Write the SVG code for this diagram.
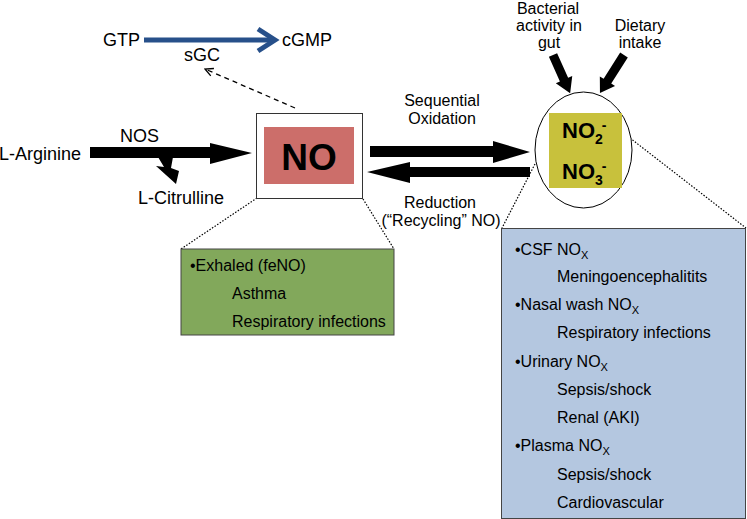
<svg xmlns="http://www.w3.org/2000/svg" width="747" height="519" viewBox="0 0 747 519">
<defs>
<style>
text{font-family:"Liberation Sans",Arial,sans-serif;fill:#000}
.lbl{font-size:18px}
.sm{font-size:16px}
.dot{stroke:#000;stroke-width:1.2;stroke-dasharray:1.5 1.6;fill:none}
.blk{fill:#000}
</style>
<marker id="chev" viewBox="0 0 10 10" refX="9" refY="5" markerWidth="10" markerHeight="10" orient="auto" markerUnits="userSpaceOnUse">
<path d="M1,1 L9,5 L1,9" fill="none" stroke="#000" stroke-width="1.3"/>
</marker>
</defs>
<rect width="747" height="519" fill="#fff"/>

<g id="connectors">
<!-- GTP -> cGMP -->
<line x1="144" y1="40" x2="272" y2="40" stroke="#27508a" stroke-width="5"/>
<path d="M258,29 L275,40 L258,51" fill="none" stroke="#27508a" stroke-width="5" stroke-linejoin="miter"/>
<!-- NO -> sGC dashed -->
<line x1="295" y1="108" x2="205" y2="69" stroke="#000" stroke-width="1.3" stroke-dasharray="5 4" marker-end="url(#chev)"/>
<!-- L-Arginine -> NO -->
<path class="blk" d="M90,147 L210,147 L210,143 L252,153 L210,164 L210,158 L90,158Z"/>
<path class="blk" d="M158,157 L173,157 L171,168 L179,171 L176,184 L156,166 L164,167Z"/>
<!-- Sequential oxidation -->
<path class="blk" d="M370,146 L493,146 L493,141 L530,152 L493,163 L493,157 L370,157Z"/>
<!-- Reduction -->
<path class="blk" d="M530,167 L410,167 L410,162 L367,172 L410,183 L410,177 L530,177Z"/>
<!-- Bacterial / Dietary -->
<path class="blk" transform="translate(553,55) rotate(65.9)" d="M0,-4.5 L27,-4.5 L27,-9 L42,0 L27,9 L27,4.5 L0,4.5Z"/>
<path class="blk" transform="translate(624,55) rotate(122.3)" d="M0,-4.5 L31,-4.5 L31,-9 L45,0 L31,9 L31,4.5 L0,4.5Z"/>
<!-- dotted callouts -->
<line class="dot" x1="257" y1="198" x2="181" y2="249"/>
<line class="dot" x1="363" y1="199" x2="394" y2="249"/>
<line class="dot" x1="535" y1="164" x2="502" y2="228"/>
<line class="dot" x1="630" y1="138" x2="746" y2="228"/>
</g>

<g id="gtp-cgmp">
<text class="lbl" x="103" y="46">GTP</text>
<text class="lbl" x="282" y="46">cGMP</text>
<text class="lbl" x="184" y="61">sGC</text>
</g>

<g id="arginine">
<text class="lbl" x="-1" y="160">L-Arginine</text>
<text class="lbl" x="120" y="142">NOS</text>
<text class="lbl" x="138" y="204">L-Citrulline</text>
</g>

<g id="no-node">
<rect x="256.5" y="113.5" width="106" height="85" fill="#fff" stroke="#333" stroke-width="1"/>
<rect x="264" y="127" width="90" height="57" fill="#cc6e6a"/>
<text x="309" y="170" font-size="37" font-weight="bold" text-anchor="middle">NO</text>
</g>

<g id="oxidation-label">
<text class="sm" x="442" y="106" text-anchor="middle">Sequential</text>
<text class="sm" x="442" y="124" text-anchor="middle">Oxidation</text>
</g>
<g id="reduction-label">
<text class="sm" x="440" y="208" text-anchor="middle">Reduction</text>
<text class="sm" x="441" y="226" text-anchor="middle">(“Recycling” NO)</text>
</g>

<g id="sources">
<text class="sm" x="548" y="14" text-anchor="middle">Bacterial</text>
<text class="sm" x="549" y="31" text-anchor="middle">activity in</text>
<text class="sm" x="549" y="48" text-anchor="middle">gut</text>
<text class="sm" x="640" y="31" text-anchor="middle">Dietary</text>
<text class="sm" x="640" y="48" text-anchor="middle">intake</text>
</g>

<g id="nox-node">
<ellipse cx="583.5" cy="150" rx="48.5" ry="58" fill="#fff" stroke="#000" stroke-width="1"/>
<rect x="549" y="113" width="73" height="75" fill="#c8c13c"/>
<text x="562" y="138" font-size="22" font-weight="bold">NO<tspan font-size="14" dy="6">2</tspan><tspan font-size="14" dx="-1" dy="-14">-</tspan></text>
<text x="562" y="179" font-size="22" font-weight="bold">NO<tspan font-size="14" dy="6">3</tspan><tspan font-size="14" dx="-1" dy="-14">-</tspan></text>
</g>

<g id="exhaled-box">
<rect x="181" y="249" width="213" height="86" fill="#82a85b" stroke="#444" stroke-width="1"/>
<text class="sm" x="190" y="271">•Exhaled (feNO)</text>
<text class="sm" x="232" y="299">Asthma</text>
<text class="sm" x="232" y="327">Respiratory infections</text>
</g>

<g id="nox-box">
<rect x="501.5" y="228.5" width="244" height="290" fill="#b4c7e0" stroke="#444" stroke-width="1"/>
<text class="sm" x="515" y="255">•CSF NO<tspan font-size="11" dy="4">X</tspan></text>
<text class="sm" x="557" y="282">Meningoencephalitits</text>
<text class="sm" x="515" y="310">•Nasal wash NO<tspan font-size="11" dy="4">X</tspan></text>
<text class="sm" x="557" y="338">Respiratory infections</text>
<text class="sm" x="515" y="367">•Urinary NO<tspan font-size="11" dy="4">X</tspan></text>
<text class="sm" x="557" y="395">Sepsis/shock</text>
<text class="sm" x="557" y="423">Renal (AKI)</text>
<text class="sm" x="515" y="451">•Plasma NO<tspan font-size="11" dy="4">X</tspan></text>
<text class="sm" x="557" y="480">Sepsis/shock</text>
<text class="sm" x="557" y="508">Cardiovascular</text>
</g>
</svg>
